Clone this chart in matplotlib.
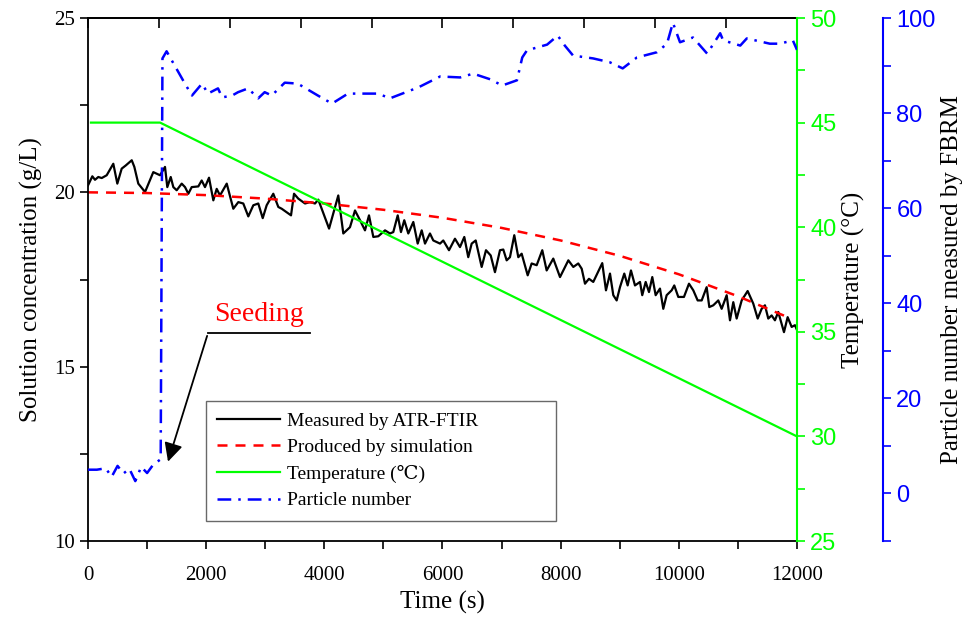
import matplotlib
matplotlib.use('Agg')
import matplotlib.pyplot as plt
import numpy as np

plt.rcParams['font.family'] = ['Liberation Serif', 'DejaVu Serif']

# measured concentration (ATR-FTIR), g/L
t_meas = [0, 73, 118, 174, 232, 316, 428, 496, 570, 638, 740, 784, 851, 965, 1105,
          1219, 1303, 1342, 1400, 1444, 1501, 1586, 1642, 1698, 1755, 1867, 1924, 1980,
          2048, 2121, 2178, 2234, 2348, 2459, 2544, 2628, 2713, 2798, 2882, 2957, 3024,
          3136, 3221, 3278, 3436, 3487, 3559, 3673, 3757, 3842, 3898, 3966, 4080, 4236,
          4321, 4434, 4519, 4604, 4688, 4756, 4829, 4913, 5027, 5111, 5167, 5242, 5297,
          5353, 5421, 5506, 5580, 5648, 5704, 5788, 5844, 5958, 6013, 6110, 6211, 6296,
          6369, 6436, 6494, 6562, 6663, 6736, 6816, 6888, 6973, 7029, 7086, 7142, 7215,
          7283, 7340, 7442, 7509, 7594, 7689, 7763, 7875, 7989, 8130, 8214, 8298, 8356,
          8412, 8479, 8552, 8704, 8767, 8835, 8891, 8948, 9004, 9077, 9134, 9190, 9258,
          9343, 9381, 9439, 9495, 9551, 9608, 9681, 9737, 9794, 9879, 9923, 9991, 10087,
          10172, 10245, 10319, 10387, 10471, 10516, 10583, 10668, 10725, 10810, 10866,
          10922, 10979, 11064, 11165, 11260, 11335, 11402, 11458, 11514, 11571, 11627,
          11683, 11780, 11842, 11910, 11966, 12000]
c_meas = [20.20, 20.46, 20.36, 20.44, 20.41, 20.49, 20.82, 20.25, 20.68, 20.77, 20.92,
          20.73, 20.25, 20.01, 20.58, 20.49, 20.73, 20.15, 20.44, 20.15, 20.06, 20.25,
          20.15, 19.96, 20.15, 20.17, 20.34, 20.15, 20.42, 19.77, 20.10, 19.91, 20.25,
          19.53, 19.72, 19.68, 19.31, 19.63, 19.68, 19.26, 19.63, 19.96, 19.58, 19.53,
          19.34, 19.96, 19.82, 19.68, 19.72, 19.68, 19.79, 19.48, 18.96, 19.91, 18.82,
          19.00, 19.48, 19.20, 18.91, 19.34, 18.72, 18.74, 18.91, 18.82, 18.86, 19.34,
          18.86, 19.20, 18.82, 19.15, 18.53, 18.91, 18.53, 18.82, 18.62, 18.53, 18.62,
          18.34, 18.67, 18.43, 18.72, 18.14, 18.53, 18.62, 17.86, 18.34, 18.19, 17.71,
          18.34, 18.36, 18.05, 18.14, 18.77, 18.14, 18.24, 17.62, 17.96, 17.91, 18.34,
          17.76, 18.10, 17.57, 18.05, 17.86, 17.96, 17.81, 17.38, 17.52, 17.43, 17.97,
          17.19, 17.67, 17.05, 16.90, 17.28, 17.67, 17.33, 17.76, 17.33, 17.43, 17.05,
          17.43, 17.14, 17.57, 17.05, 17.24, 16.66, 17.05, 17.19, 17.33, 17.00, 17.00,
          17.38, 17.19, 16.90, 16.90, 17.28, 16.71, 16.76, 16.90, 16.66, 17.05, 16.33,
          16.85, 16.38, 16.90, 17.17, 16.81, 16.38, 16.66, 16.76, 16.38, 16.47, 16.33,
          16.57, 15.99, 16.42, 16.14, 16.19, 16.05]

# simulated concentration
t_sim = [0, 1000, 2000, 3000, 4000, 5000, 6000, 7000, 8000, 9000, 10000, 11000, 11800]
c_sim = [20.0, 19.98, 19.92, 19.82, 19.68, 19.50, 19.27, 18.98, 18.62, 18.18, 17.65, 17.02, 16.45]

# temperature profile
t_temp = [50, 1220, 12000]
temp = [45, 45, 30]

# particle number (FBRM)
t_fbrm = [0, 150, 300, 400, 500, 600, 700, 800, 900, 1000, 1100, 1230, 1260, 1330,
          1640, 1760, 1930, 2030, 2200, 2270, 2440, 2540, 2710, 2880, 2990, 3110, 3330,
          3550, 3890, 4130, 4400, 4910, 5110, 5590, 5960, 6300, 6520, 6810, 7010, 7260,
          7350, 7430, 7770, 7950, 8070, 8210, 8550, 8830, 9050, 9290, 9630, 9800, 9900,
          10020, 10240, 10480, 10700, 10750, 11040, 11150, 11540, 11710, 11930, 12000]
n_fbrm = [5.0, 5.0, 5.3, 3.5, 5.8, 4.2, 5.2, 2.6, 5.6, 4.3, 6.0, 7.2, 91.5, 93.0,
          86.2, 83.7, 86.2, 84.1, 85.2, 83.3, 83.7, 84.4, 85.2, 83.1, 84.4, 83.7, 86.4,
          86.2, 83.7, 82.0, 84.1, 84.1, 83.1, 85.4, 87.7, 87.5, 88.3, 87.1, 85.8, 86.9,
          91.7, 93.2, 94.4, 96.3, 94.2, 92.1, 91.5, 90.7, 89.4, 91.7, 92.8, 94.6, 99.0,
          94.9, 95.9, 92.5, 96.8, 95.3, 94.2, 95.7, 94.6, 94.6, 95.3, 93.3]

GREEN = '#00ff00'
BLUE = '#0000ff'

fig = plt.figure(figsize=(9.63, 6.23), dpi=100)
ax = fig.add_axes([0.0914, 0.1316, 0.7362, 0.8395])
ax2 = ax.twinx()
ax3 = ax.twinx()

l1, = ax.plot(t_meas, c_meas, color='black', lw=1.6, label='Measured by ATR-FTIR')
l2, = ax.plot(t_sim, c_sim, color='red', lw=1.8, ls=(0, (4, 3.2)), label='Produced by simulation')
l3, = ax2.plot(t_temp, temp, color=GREEN, lw=1.6, label='Temperature (\u2103)')
l4, = ax3.plot(t_fbrm, n_fbrm, color=BLUE, lw=1.8, ls=(0, (5.5, 2.8, 1, 2.8)), label='Particle number')

# main axes
ax.set_xlim(0, 12000)
ax.set_ylim(10, 25)
ax.set_xticks(np.arange(0, 12001, 2000))
ax.set_xticks(np.arange(0, 12001, 1000), minor=True)
ax.set_yticks([10, 15, 20, 25])
ax.set_yticks(np.arange(10, 25.1, 2.5), minor=True)
ax.tick_params(which='both', direction='out', length=6, width=1.2, labelsize=15,
               right=False, top=False)
ax.tick_params(axis='x', which='major', pad=12)
ax.spines['right'].set_visible(False)
for s in ['left', 'bottom', 'top']:
    ax.spines[s].set_linewidth(1.3)
ax.set_xlabel('Time (s)', fontsize=18, labelpad=4)
ax.set_ylabel('Solution concentration (g/L)', fontsize=18, labelpad=8)

top = ax.secondary_xaxis('top')
top.set_xticks(np.arange(0, 12001, 1200))
top.tick_params(direction='in', length=7, width=1.2, labeltop=False)
top.spines['top'].set_linewidth(1.3)

# temperature axis
ax2.set_ylim(25, 50)
ax2.set_yticks(np.arange(25, 51, 5))
ax2.set_yticks(np.arange(25, 50.1, 2.5), minor=True)
ax2.tick_params(which='both', direction='out', length=6, width=1.2, colors=GREEN,
                labelsize=17, labelfontfamily='Liberation Sans')
for s in ['left', 'top', 'bottom']:
    ax2.spines[s].set_visible(False)
ax2.spines['right'].set_color(GREEN)
ax2.spines['right'].set_linewidth(1.5)
ax2.set_ylabel('Temperature (\u00b0C)', fontsize=18, color='black', labelpad=4)

# particle number axis
ax3.set_ylim(-10, 100)
ax3.set_yticks(np.arange(0, 101, 20))
ax3.set_yticks(np.arange(-10, 101, 10), minor=True)
ax3.tick_params(which='both', direction='out', length=6, width=1.2, colors=BLUE,
                labelsize=17, labelfontfamily='Liberation Sans')
for s in ['left', 'top', 'bottom']:
    ax3.spines[s].set_visible(False)
ax3.spines['right'].set_position(('outward', 62))
ax3.spines['right'].set_color(BLUE)
ax3.spines['right'].set_linewidth(1.5)
ax3.set_ylabel('Particle number measured by FBRM', fontsize=18, color='black', labelpad=4)

# seeding annotation
ax.text(2900, 16.15, 'Seeding', color='red', fontsize=20, ha='center', va='bottom')
ax.plot([2030, 3760], [15.96, 15.96], color='black', lw=1.3)
ax.annotate('', xy=(1340, 12.2), xytext=(2030, 15.96),
            arrowprops=dict(arrowstyle='-|>', color='black', lw=1.3, mutation_scale=28))

leg = ax3.legend([l1, l2, l3, l4], [h.get_label() for h in [l1, l2, l3, l4]],
                 loc='lower left', bbox_to_anchor=(0.166, 0.038, 0.494, 0.24),
                 mode='expand', borderaxespad=0, fontsize=14,
                 frameon=True, fancybox=False, edgecolor='#444444', handlelength=3.2,
                 labelspacing=0.45, borderpad=0.6, handletextpad=0.4)
leg.get_frame().set_linewidth(1.0)

fig.savefig('out.png', dpi=100)
